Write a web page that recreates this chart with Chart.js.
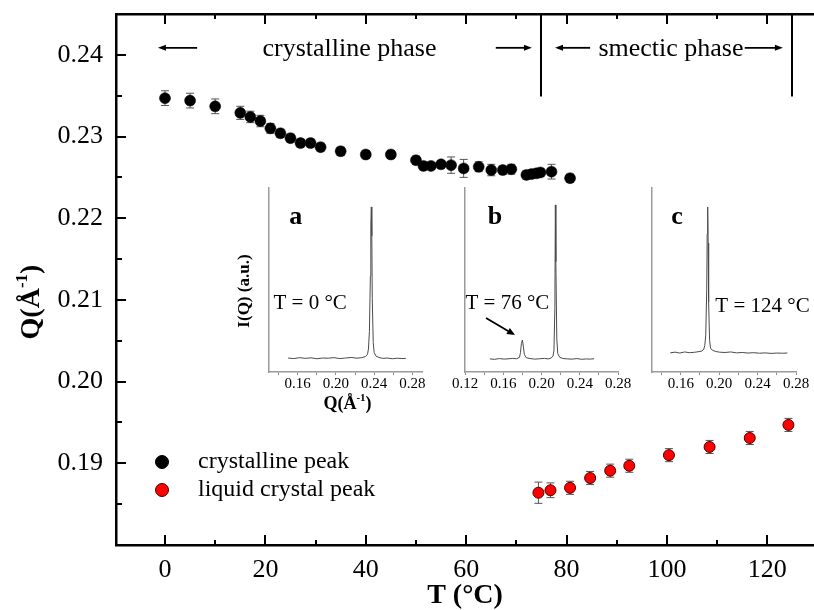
<!DOCTYPE html>
<html>
<head>
<meta charset="utf-8">
<script src="https://cdn.jsdelivr.net/npm/chart.js@4.4.1/dist/chart.umd.min.js"></script>
<style>
  body { margin: 0; background: #fff; overflow: hidden; }
  #wrap { position: relative; width: 814px; height: 610px; }
  #wrap canvas { position: absolute; }
</style>
</head>
<body>
<div id="wrap">
  <canvas id="main" width="814" height="610" style="left:0;top:0"></canvas>
  <canvas id="insetA" width="215" height="245" style="left:225px;top:170px"></canvas>
  <canvas id="insetB" width="196" height="245" style="left:440px;top:170px"></canvas>
  <canvas id="insetC" width="178" height="245" style="left:636px;top:170px"></canvas>
</div>
<script>
const FONT = 'Liberation Serif';
Chart.defaults.font.family = FONT;
Chart.defaults.color = '#000';

// peak position Q (1/A) against temperature (C)
const crystT = [0, 5, 10, 15, 17, 19, 21, 23, 25, 27, 29, 31, 35, 40, 45, 50, 51.5, 53, 55, 57, 59.5, 62.5, 65, 67.3, 69, 72, 73, 74, 74.8, 77, 80.7];
const crystQ = [0.2347, 0.2344, 0.2337, 0.2329, 0.2324, 0.2319, 0.2310, 0.2304, 0.2298, 0.2292, 0.2292, 0.2287, 0.2282, 0.2278, 0.2278, 0.2271, 0.2264, 0.2264, 0.2266, 0.2265, 0.2261, 0.2263, 0.2259, 0.2259, 0.2260, 0.2253, 0.2254, 0.2255, 0.2256, 0.2257, 0.2249];
const crystErr = [0.0009, 0.0009, 0.0009, 0.0008, 0.0007, 0.0007, 0.0006, 0.0005, 0.0005, 0.0005, 0.0005, 0.0005, 0.0005, 0.0005, 0.0005, 0.0005, 0.0005, 0.0004, 0.0004, 0.0010, 0.0011, 0.0006, 0.0007, 0.0005, 0.0006, 0.0005, 0.0005, 0.0005, 0.0005, 0.0009, 0.0005];
const lcT = [74.4, 76.8, 80.7, 84.7, 88.7, 92.5, 100.4, 108.5, 116.5, 124.2];
const lcQ = [0.1864, 0.1867, 0.1870, 0.1882, 0.1891, 0.1897, 0.1910, 0.1920, 0.1931, 0.1947];
const lcErr = [0.0013, 0.0009, 0.0008, 0.0008, 0.0008, 0.0008, 0.0008, 0.0008, 0.0008, 0.0008];

const tTicks = [0, 20, 40, 60, 80, 100, 120];
const qTicks = [0.19, 0.20, 0.21, 0.22, 0.23, 0.24];
const phaseEdges = [75, 125];
const legendNames = ['crystalline peak', 'liquid crystal peak'];

// scattering profiles I(Q) shown in the three small panels
const profQA = [0.150, 0.156, 0.162, 0.168, 0.174, 0.180, 0.186, 0.192, 0.198, 0.204, 0.210, 0.216, 0.222, 0.227, 0.231, 0.233, 0.234, 0.235, 0.236, 0.2365, 0.237, 0.2375, 0.238, 0.239, 0.240, 0.242, 0.245, 0.249, 0.254, 0.259, 0.264, 0.269, 0.273];
const profIA = [7.6, 7.3, 7.8, 7.4, 7.7, 7.2, 7.6, 7.5, 7.8, 7.3, 7.6, 7.9, 7.5, 7.8, 8.4, 9.6, 12.5, 22, 52, 80, 89.7, 74, 40, 16, 10.5, 8.6, 7.9, 7.4, 7.6, 7.2, 7.5, 7.3, 7.4];
const profQB = [0.146, 0.151, 0.156, 0.161, 0.166, 0.170, 0.174, 0.177, 0.178, 0.179, 0.180, 0.181, 0.182, 0.184, 0.188, 0.193, 0.198, 0.203, 0.207, 0.210, 0.212, 0.213, 0.214, 0.2145, 0.215, 0.216, 0.217, 0.219, 0.222, 0.227, 0.232, 0.237, 0.242, 0.247, 0.251, 0.255];
const profIB = [7.1, 6.9, 7.3, 7.0, 7.2, 7.4, 7.2, 8.0, 10.5, 15.5, 17.4, 14, 9.6, 7.8, 7.3, 7.0, 7.2, 7.4, 7.1, 7.6, 8.6, 11.5, 35, 90.8, 60, 18, 10, 8, 7.4, 7.1, 7.0, 7.3, 6.9, 7.1, 7.0, 7.2];
const profQC = [0.149, 0.154, 0.159, 0.164, 0.169, 0.174, 0.178, 0.182, 0.184, 0.185, 0.186, 0.187, 0.1875, 0.188, 0.1885, 0.189, 0.190, 0.191, 0.193, 0.196, 0.200, 0.206, 0.212, 0.218, 0.224, 0.230, 0.236, 0.242, 0.248, 0.254, 0.260, 0.266, 0.271];
const profIC = [10.4, 10.8, 10.3, 10.9, 10.5, 10.7, 11.0, 11.4, 12.5, 14.5, 20, 45, 75, 89.7, 70, 38, 17, 13, 11.8, 11.2, 10.8, 10.6, 10.9, 10.4, 10.6, 10.3, 10.5, 10.2, 10.4, 10.1, 10.3, 10.2, 10.3];
const insetTicks = [0.14, 0.16, 0.18, 0.20, 0.22, 0.24, 0.26, 0.28];
const insetTicksB = [0.12, 0.14, 0.16, 0.18, 0.20, 0.22, 0.24, 0.26, 0.28];
const insetLabels = [0.12, 0.16, 0.20, 0.24, 0.28];

function arrow(ctx, x1, y1, x2, y2, head, half) {
  const a = Math.atan2(y2 - y1, x2 - x1);
  const c = Math.cos(a), s = Math.sin(a);
  ctx.beginPath();
  ctx.moveTo(x1, y1);
  ctx.lineTo(x2 - head * 0.7 * c, y2 - head * 0.7 * s);
  ctx.stroke();
  ctx.beginPath();
  ctx.moveTo(x2, y2);
  ctx.lineTo(x2 - head * c + half * s, y2 - head * s - half * c);
  ctx.lineTo(x2 - head * c - half * s, y2 - head * s + half * c);
  ctx.closePath();
  ctx.fill();
}

// "Q(Å-1)" with a raised exponent, optionally turned to read upwards
function qLabel(ctx, x, y, size, upright) {
  const big = 'bold ' + size + 'px "' + FONT + '"';
  const small = 'bold ' + Math.round(size * 0.62) + 'px "' + FONT + '"';
  const parts = [['Q(Å', big, 0], ['-1', small, -size * 0.42], [')', big, 0]];
  ctx.save();
  ctx.translate(x, y);
  if (upright) ctx.rotate(-Math.PI / 2);
  let w = 0;
  parts.forEach(p => { ctx.font = p[1]; w += ctx.measureText(p[0]).width; });
  let cx = -w / 2;
  ctx.textBaseline = 'alphabetic';
  ctx.textAlign = 'left';
  ctx.fillStyle = '#000';
  parts.forEach(p => {
    ctx.font = p[1];
    ctx.fillText(p[0], cx, size * 0.33 + p[2]);
    cx += ctx.measureText(p[0]).width;
  });
  ctx.restore();
}

const frame = {
  id: 'frame',
  beforeDatasetsDraw(chart) {
    // error bars sit behind the markers
    const {ctx, scales: {x, y}} = chart;
    ctx.save();
    ctx.strokeStyle = '#555';
    ctx.lineWidth = 1;
    chart.data.datasets.forEach(ds => {
      ds.data.forEach((p, i) => {
        const px = x.getPixelForValue(p.x);
        const y1 = y.getPixelForValue(p.y - ds.errors[i]);
        const y2 = y.getPixelForValue(p.y + ds.errors[i]);
        ctx.beginPath();
        ctx.moveTo(px, y1); ctx.lineTo(px, y2);
        ctx.moveTo(px - 4, y1); ctx.lineTo(px + 4, y1);
        ctx.moveTo(px - 4, y2); ctx.lineTo(px + 4, y2);
        ctx.stroke();
      });
    });
    ctx.restore();
  },
  afterDraw(chart) {
    const {ctx, chartArea: area, scales: {x, y}} = chart;
    ctx.save();
    ctx.strokeStyle = '#000';
    ctx.fillStyle = '#000';

    // inward tick marks on bottom, top and left edges
    ctx.lineWidth = 2;
    const tStep = tTicks[1] - tTicks[0];
    const tAll = [];
    tTicks.forEach(t => { tAll.push([t, 10]); tAll.push([t + tStep / 2, 5]); });
    tAll.forEach(([t, len]) => {
      const px = Math.round(x.getPixelForValue(t));
      if (px <= area.left + 2 || px >= area.right - 2) return;
      ctx.beginPath();
      ctx.moveTo(px, area.bottom); ctx.lineTo(px, area.bottom - len);
      ctx.moveTo(px, area.top); ctx.lineTo(px, area.top + len);
      ctx.stroke();
    });
    const qStep = qTicks[1] - qTicks[0];
    const qAll = [[qTicks[0] - qStep / 2, 6]];
    qTicks.forEach(q => { qAll.push([q, 10]); qAll.push([q + qStep / 2, 6]); });
    qAll.forEach(([q, len]) => {
      const py = Math.round(y.getPixelForValue(q));
      if (py <= area.top + 2 || py >= area.bottom - 2) return;
      ctx.beginPath();
      ctx.moveTo(area.left, py); ctx.lineTo(area.left + len, py);
      ctx.stroke();
    });

    // phase boundaries
    ctx.lineWidth = 2;
    phaseEdges.forEach(t => {
      const px = Math.round(x.getPixelForValue(t));
      ctx.beginPath();
      ctx.moveTo(px, area.top);
      ctx.lineTo(px, y.getPixelForValue(0.2349));
      ctx.stroke();
    });

    // phase names with span arrows
    ctx.font = '26px "' + FONT + '"';
    ctx.textAlign = 'center';
    ctx.textBaseline = 'alphabetic';
    const base = y.getPixelForValue(0.2398);
    ctx.fillText('crystalline phase', x.getPixelForValue(36.75), base);
    ctx.fillText('smectic phase', x.getPixelForValue(100.8), base);
    ctx.lineWidth = 1.8;
    const ay = y.getPixelForValue(0.24086);
    [[6.4, -1.4], [65.9, 73.1], [84.7, 77.7], [115.5, 123.1]].forEach(([a, b]) => {
      arrow(ctx, x.getPixelForValue(a), ay, x.getPixelForValue(b), ay, 8, 3);
    });

    // legend
    ctx.font = '24px "' + FONT + '"';
    ctx.textAlign = 'left';
    ctx.textBaseline = 'middle';
    chart.data.datasets.forEach((ds, i) => {
      const ly = area.bottom - 83 + i * 28;
      ctx.beginPath();
      ctx.arc(area.left + 46, ly, 6.5, 0, Math.PI * 2);
      ctx.fillStyle = ds.backgroundColor;
      ctx.fill();
      ctx.lineWidth = 1;
      ctx.strokeStyle = ds.borderColor;
      ctx.stroke();
      ctx.fillStyle = '#000';
      ctx.fillText(legendNames[i], area.left + 82, ly);
    });

    qLabel(ctx, 30, 302, 28, true);
    ctx.restore();
  }
};

new Chart(document.getElementById('main'), {
  type: 'scatter',
  data: {
    datasets: [{
      label: legendNames[0],
      data: crystT.map((t, i) => ({x: t, y: crystQ[i]})),
      errors: crystErr,
      backgroundColor: '#000000',
      borderColor: '#000000',
      borderWidth: 0.5,
      pointRadius: 5.5
    }, {
      label: legendNames[1],
      data: lcT.map((t, i) => ({x: t, y: lcQ[i]})),
      errors: lcErr,
      backgroundColor: '#ff0000',
      borderColor: '#4a0000',
      borderWidth: 1,
      pointRadius: 5.5
    }]
  },
  options: {
    responsive: false,
    animation: false,
    layout: { padding: 0, autoPadding: false },
    plugins: { legend: { display: false }, tooltip: { enabled: false } },
    scales: {
      x: {
        type: 'linear', position: 'bottom', min: -9.76, max: 129.3,
        afterBuildTicks: s => { s.ticks = tTicks.map(v => ({value: v})); },
        afterFit: s => { s.height = 65; s.paddingLeft = 0; s.paddingRight = 0; },
        ticks: { font: { size: 26 }, padding: 10, maxRotation: 0, autoSkip: false },
        grid: { display: false, drawTicks: false },
        border: { color: '#000', width: 2.5 },
        title: { display: true, text: 'T (°C)', font: { size: 28, weight: 'bold', lineHeight: 1 }, padding: 0 }
      },
      xTop: {
        type: 'linear', position: 'top', min: -9.76, max: 129.3,
        ticks: { display: false },
        grid: { display: false, drawTicks: false },
        border: { color: '#000', width: 2.5 },
        afterFit: s => { s.height = 14; s.paddingLeft = 0; s.paddingRight = 0; }
      },
      y: {
        type: 'linear', min: 0.18, max: 0.245,
        afterBuildTicks: s => { s.ticks = qTicks.map(v => ({value: v})); },
        afterFit: s => { s.width = 116; s.paddingTop = 0; s.paddingBottom = 0; },
        ticks: { font: { size: 26 }, padding: 13, callback: v => v.toFixed(2) },
        grid: { display: false, drawTicks: false },
        border: { color: '#000', width: 2.5 }
      }
    }
  },
  plugins: [frame]
});

function inset(id, cfg) {
  return new Chart(document.getElementById(id), {
    type: 'line',
    data: {
      datasets: [{
        data: cfg.q.map((q, i) => ({x: q, y: cfg.i[i]})),
        borderColor: '#4a4a4a',
        borderWidth: 1,
        pointRadius: 0,
        tension: 0
      }]
    },
    options: {
      responsive: false,
      animation: false,
      layout: { padding: { top: 18, right: 18, left: 0, bottom: 0 }, autoPadding: false },
      plugins: { legend: { display: false }, tooltip: { enabled: false } },
      scales: {
        x: {
          type: 'linear', min: cfg.range[0], max: cfg.range[1],
          afterBuildTicks: s => { s.ticks = cfg.ticks.map(v => ({value: v})); },
          afterFit: s => { s.height = 43; },
          ticks: {
            autoSkip: false, maxRotation: 0, padding: 0, font: { size: 15 },
            callback: v => insetLabels.some(l => Math.abs(l - v) < 1e-6) ? v.toFixed(2) : ''
          },
          grid: { drawOnChartArea: false, tickLength: 3, color: '#8a8a8a' },
          border: { color: '#9a9a9a', width: 1.5 }
        },
        y: {
          min: 0, max: 100,
          ticks: { display: false },
          grid: { display: false },
          border: { color: '#9a9a9a', width: 1.5 },
          afterFit: s => { s.width = cfg.left; }
        }
      }
    },
    plugins: [{
      id: 'insetNotes',
      afterDraw(chart) {
        const {ctx, scales: {x, y}} = chart;
        ctx.save();
        ctx.fillStyle = '#000';
        ctx.strokeStyle = '#000';
        ctx.textAlign = 'center';
        ctx.textBaseline = 'middle';
        ctx.font = 'bold 26px "' + FONT + '"';
        ctx.fillText(cfg.tag[0], x.getPixelForValue(cfg.tag[1]), y.getPixelForValue(84.2));
        ctx.font = '21px "' + FONT + '"';
        ctx.fillText(cfg.temp[0], x.getPixelForValue(cfg.temp[1]), y.getPixelForValue(cfg.temp[2]));
        if (cfg.pointer) {
          const p = cfg.pointer;
          ctx.lineWidth = 1.8;
          arrow(ctx, x.getPixelForValue(p[0]), y.getPixelForValue(p[1]),
                x.getPixelForValue(p[2]), y.getPixelForValue(p[3]), 8, 3.5);
        }
        if (cfg.titles) {
          const a = chart.chartArea;
          ctx.save();
          ctx.translate(a.left - 24, y.getPixelForValue(44));
          ctx.rotate(-Math.PI / 2);
          ctx.font = 'bold 17px "' + FONT + '"';
          ctx.fillText('I(Q) (a.u.)', 0, 0);
          ctx.restore();
          qLabel(ctx, (a.left + a.right) / 2 + 2, a.bottom + 31, 18, false);
        }
        ctx.restore();
      }
    }]
  });
}

inset('insetA', { q: profQA, i: profIA, range: [0.13, 0.29], ticks: insetTicks, left: 44,
  tag: ['a', 0.158], temp: ['T = 0 °C', 0.173, 37], titles: true });
inset('insetB', { q: profQB, i: profIB, range: [0.12, 0.28], ticks: insetTicksB, left: 25,
  tag: ['b', 0.1514], temp: ['T = 76 °C', 0.1644, 37], pointer: [0.142, 29.3, 0.1723, 20.1] });
inset('insetC', { q: profQC, i: profIC, range: [0.13, 0.28], ticks: insetTicks, left: 16,
  tag: ['c', 0.156], temp: ['T = 124 °C', 0.2451, 35.5] });
</script>
</body>
</html>
